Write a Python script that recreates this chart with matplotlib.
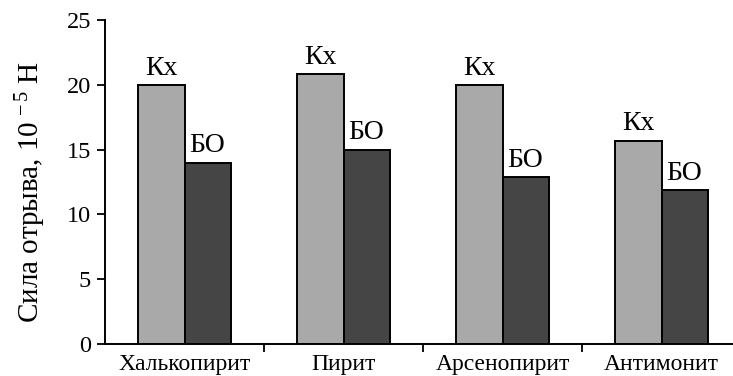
import matplotlib
matplotlib.use("Agg")
import matplotlib.pyplot as plt
import numpy as np

categories = ["Халькопирит", "Пирит", "Арсенопирит", "Антимонит"]
kx_values = [20.0, 20.8, 20.0, 15.7]
bo_values = [14.0, 15.0, 12.9, 11.9]
series_labels = ["Кх", "БО"]
yticks = [0, 5, 10, 15, 20, 25]

plt.rcParams['font.family'] = ['Liberation Serif', 'DejaVu Serif']
plt.rcParams['mathtext.fontset'] = 'custom'
plt.rcParams['mathtext.rm'] = 'Liberation Serif'
plt.rcParams['mathtext.it'] = 'Liberation Serif:italic'

W, H = 733, 376
fig = plt.figure(figsize=(W / 100, H / 100), dpi=100)
left, right = 105, 733
bottom, top = 344, 20
ax = fig.add_axes([left / W, 1 - bottom / H, (right - left) / W, (bottom - top) / H])

x = np.arange(len(categories))
w = 0.29
b1 = ax.bar(x - w / 2, kx_values, w, color="#a9a9a9", edgecolor="black", linewidth=1.4)
b2 = ax.bar(x + w / 2, bo_values, w, color="#454545", edgecolor="black", linewidth=1.4)

for bars, lab in zip([b1, b2], series_labels):
    for r in bars:
        ax.annotate(lab, (r.get_x() + r.get_width() / 2, r.get_height()),
                    xytext=(0, 3), textcoords="offset points",
                    ha="center", va="bottom", fontsize=20)

ax.set_xlim(-0.5, -0.5 + (right - left) / 159)
ax.set_ylim(0, 25)
ax.set_yticks(yticks)
ax.set_xticks(x)
ax.set_xticklabels(categories, fontsize=17)
ax.tick_params(axis='x', length=0, pad=7)
ax.set_xticks(np.arange(len(categories) - 1) + 0.5, minor=True)
ax.tick_params(axis='x', which='minor', length=6, width=1.3, direction='out')
ax.tick_params(axis='y', length=6, width=1.3, direction='out', labelsize=17.5, pad=4)
for s in ["top", "right"]:
    ax.spines[s].set_visible(False)
for s in ["left", "bottom"]:
    ax.spines[s].set_linewidth(1.4)
ax.set_ylabel("Сила отрыва, 10$^{\\,−5}$ Н", fontsize=21)
ax.yaxis.set_label_coords(-0.09, 0.47)

fig.savefig("out.png", dpi=100)
